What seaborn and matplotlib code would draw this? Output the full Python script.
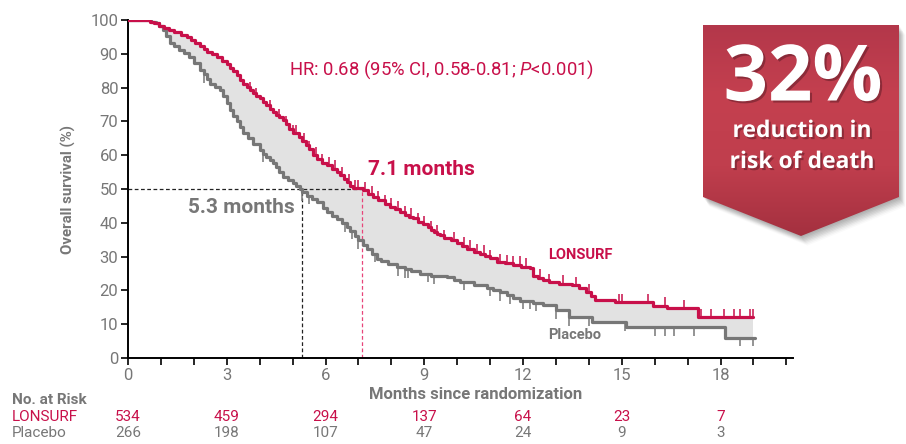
import numpy as np
import matplotlib
matplotlib.use('Agg')
from matplotlib import pyplot as plt
from matplotlib.patches import Polygon
import matplotlib.patheffects as pe
import seaborn as sns

# Kaplan-Meier step points (months, % alive)
lonsurf_t = [0, 0.67, 0.8, 0.95, 1.1, 1.25, 1.4, 1.6, 1.78, 1.9, 2.05, 2.2, 2.3, 2.4, 2.55,
             2.7, 2.85, 3.0, 3.1, 3.2, 3.3, 3.4, 3.5, 3.6, 3.7, 3.8, 3.9, 4.0, 4.1, 4.2,
             4.3, 4.4, 4.5, 4.6, 4.7, 4.8, 4.9, 5.0, 5.2, 5.3, 5.4, 5.5, 5.63, 5.75, 5.9,
             6.05, 6.2, 6.34, 6.45, 6.55, 6.65, 6.75, 6.84, 7.14, 7.3, 7.45, 7.6, 7.8, 7.96,
             8.1, 8.25, 8.4, 8.55, 8.66, 8.8, 8.95, 9.1, 9.2, 9.3, 9.4, 9.47, 9.6, 9.8,
             10.0, 10.15, 10.3, 10.5, 10.69, 10.85, 11.0, 11.2, 11.45, 11.7, 11.95, 12.2,
             12.3, 12.45, 12.6, 12.8, 13.1, 13.5, 13.7, 13.9, 14.05, 14.2, 14.8, 15.95,
             16.36, 17.3, 18.97]
lonsurf_s = [100, 99.5, 99, 98.3, 97.6, 97, 96.5, 95.7, 95, 94.2, 93.3, 92.3, 91.4, 90.6, 89.8,
             89, 88, 87, 85.8, 85, 83.6, 82.2, 81.2, 80.2, 79.2, 78.3, 77.5, 76.8, 75.8, 74.8,
             73.8, 72.9, 72, 71.2, 70.4, 69.2, 67.8, 66.5, 65.5, 64.2, 63, 61.8, 60, 59, 57.8,
             57, 56, 55, 54, 53, 52, 51, 50.2, 49.6, 48.5, 47.6, 46.8, 45.7, 44.7,
             44, 43.2, 42.4, 41.8, 41.3, 40.3, 39.5, 38.8, 38, 37.4, 36.8, 36.3, 35.5, 34.8,
             34, 33.2, 32.3, 31.3, 30.9, 30.2, 29.5, 28.4, 28, 27.6, 27, 26.5,
             24.4, 23.8, 23.2, 22.5, 22, 21.5, 20.7, 19.5, 18.3, 17.2, 16.5, 15.5,
             14.8, 12.1, 12.1]

placebo_t = [0, 0.7, 0.85, 0.95, 1.07, 1.15, 1.27, 1.4, 1.55, 1.7, 1.85, 2.0, 2.19, 2.3, 2.4,
             2.49, 2.65, 2.79, 2.9, 3.0, 3.1, 3.2, 3.3, 3.4, 3.5, 3.65, 3.8, 4.0, 4.1, 4.2,
             4.3, 4.4, 4.5, 4.6, 4.7, 4.85, 5.0, 5.1, 5.22, 5.3, 5.45, 5.6, 5.73, 5.92, 6.05,
             6.2, 6.35, 6.5, 6.64, 6.75, 6.9, 7.0, 7.14, 7.25, 7.4, 7.55, 7.7, 7.9, 8.16,
             8.4, 8.6, 8.87, 9.2, 9.68, 9.9, 10.1, 10.5, 10.9, 11.1, 11.3, 11.5, 11.7, 11.9,
             12.3, 12.6, 13.0, 13.4, 14.1, 15.14, 18.13, 19.04]
placebo_s = [100, 99.5, 99, 98.2, 97, 95.2, 93.2, 92.2, 91.2, 90.2, 89.2, 87.3, 85.2, 84, 82.5,
             81.2, 80.2, 79.3, 77.5, 75.5, 73.3, 71.6, 70, 68.2, 66.5, 65, 63.3, 61.5, 60.5, 59.5,
             58.6, 57.6, 56.5, 55, 53.6, 52.6, 51.8, 51, 50.1, 49, 48, 47, 46.2, 44.3, 43.3,
             42.1, 41, 39.8, 38.8, 37.6, 36.2, 34.8, 33.3, 32.2, 30.8, 29.4, 28.6, 27.8, 26.9,
             26.2, 25.6, 24.9, 24.4, 23.9, 23, 22.5, 21.6, 20.8, 20.2, 19.5, 18.5, 17.8, 17.0,
             16.4, 15.6, 14.1, 12.1, 10.6, 9.1, 6.0, 6.0]

# censored observations (months)
lonsurf_cens = [3.7, 3.9, 4.3, 4.6, 4.8, 5.0, 5.1, 5.35, 5.5, 5.7, 5.9, 6.1, 6.3, 6.5,
                6.7, 6.9, 7.0, 7.2, 7.4, 7.6, 7.8, 8.0, 8.2, 8.4, 8.6, 8.8, 9.0, 9.2,
                9.4, 9.6, 9.9, 10.2, 10.4, 10.6, 10.8, 11.0, 11.3, 11.5, 11.7, 11.9,
                12.1, 12.3, 12.5, 12.8, 13.2, 13.6, 14.0, 14.9, 15.0, 15.8, 16.3, 16.9,
                17.4, 17.7, 18.1, 18.4, 18.6, 18.9, 19.0]
placebo_cens = [2.3, 4.1, 5.3, 5.5, 6.6, 6.8, 7.0, 7.5, 8.2, 8.4, 8.5, 9.1, 9.3, 10.2,
                11.0, 11.3, 11.6, 12.0, 12.2, 12.4, 13.0, 13.4, 14.0, 15.1, 16.0, 16.3,
                16.6, 17.2, 18.6, 19.0]

median_lonsurf = 7.1
median_placebo = 5.3

risk_months = [0, 3, 6, 9, 12, 15, 18]
risk_lonsurf = [534, 459, 294, 137, 64, 23, 7]
risk_placebo = [266, 198, 107, 47, 24, 9, 3]

RED = '#c8104a'
GRAY = '#777777'

sns.set_theme(style='ticks')
plt.rcParams['font.family'] = ['Roboto', 'DejaVu Sans']
plt.rcParams['mathtext.fontset'] = 'custom'
plt.rcParams['mathtext.it'] = 'Roboto:italic'
plt.rcParams['mathtext.rm'] = 'Roboto'

fig = plt.figure(figsize=(9.06, 4.44), dpi=100)
ax = fig.add_axes([128 / 906, 1 - 358 / 444, 665 / 906, 338 / 444])


def step_at(times, surv, x):
    idx = np.searchsorted(times, x, side='right') - 1
    return np.asarray(surv)[idx]


# shaded gap between curves
grid = np.unique(np.concatenate([lonsurf_t, placebo_t]))
grid = grid[grid <= 19.0]
ax.fill_between(grid, step_at(lonsurf_t, lonsurf_s, grid), step_at(placebo_t, placebo_s, grid),
                step='post', color='#e2e2e2', lw=0, zorder=1)

# median guides
ax.plot([0, median_lonsurf], [50, 50], ls=(0, (3, 2)), color='#222222', lw=0.9, zorder=2)
ax.plot([median_placebo, median_placebo], [0, 50], ls=(0, (3, 2)), color='#222222', lw=0.9, zorder=2)
ax.plot([median_lonsurf, median_lonsurf], [0, 50], ls=(0, (3, 2)), color='#e8457a', lw=0.9, zorder=2)

sns.lineplot(x=placebo_t, y=placebo_s, drawstyle='steps-post', color=GRAY, lw=2.3, ax=ax, zorder=3)
sns.lineplot(x=lonsurf_t, y=lonsurf_s, drawstyle='steps-post', color=RED, lw=2.3, ax=ax, zorder=4)

# censor marks: up for LONSURF, down for placebo
yc = step_at(lonsurf_t, lonsurf_s, np.array(lonsurf_cens))
ax.vlines(lonsurf_cens, yc, yc + 2.5, color=RED, lw=1.1, zorder=4)
yc = step_at(placebo_t, placebo_s, np.array(placebo_cens))
ax.vlines(placebo_cens, yc - 2.5, yc, color=GRAY, lw=1.1, zorder=3)

ax.set_xlim(0, 20.2)
ax.set_ylim(0, 100)
ax.set_xticks(risk_months)
ax.set_xticks(range(0, 21), minor=True)
ax.set_yticks(range(0, 101, 10))
sns.despine(ax=ax)
for s in ['left', 'bottom']:
    ax.spines[s].set_linewidth(1.4)
    ax.spines[s].set_color('black')
ax.tick_params(which='both', direction='out', length=5, width=1.2, color='black',
               labelcolor=GRAY, labelsize=12, pad=2)
ax.set_xlabel('Months since randomization', fontsize=12, fontweight='bold', color=GRAY)
ax.xaxis.set_label_coords(0.522, -0.087)
ax.set_ylabel('Overall survival (%)', fontsize=10.8, fontweight='bold', color=GRAY)
ax.yaxis.set_label_coords(-0.078, 0.5)

ax.text(4.89, 85.3, r'HR: 0.68 (95% CI, 0.58-0.81; $\mathit{P}$<0.001)', color=RED,
        fontsize=13.3, ha='left', va='center')
ax.text(7.29, 55.7, '7.1 months', color=RED, fontsize=15, fontweight='bold', ha='left', va='center')
ax.text(5.07, 44.4, '5.3 months', color=GRAY, fontsize=15, fontweight='bold', ha='right', va='center')
ax.text(12.75, 30.5, 'LONSURF', color=RED, fontsize=10.5, fontweight='bold', ha='left', va='center')
ax.text(12.75, 6.8, 'Placebo', color=GRAY, fontsize=10.5, fontweight='bold', ha='left', va='center')

# number at risk table
tr = ax.get_xaxis_transform()
fig.text(12 / 906, 1 - 400 / 444, 'No. at Risk', color=GRAY, fontsize=11, fontweight='bold',
         va='center')
fig.text(12 / 906, 1 - 417 / 444, 'LONSURF', color=RED, fontsize=11, va='center')
fig.text(12 / 906, 1 - 433 / 444, 'Placebo', color=GRAY, fontsize=11, va='center')
for m, a, b in zip(risk_months, risk_lonsurf, risk_placebo):
    ax.text(m, -59 / 338, str(a), color=RED, fontsize=11, ha='center', va='center',
            transform=tr, clip_on=False)
    ax.text(m, -75 / 338, str(b), color=GRAY, fontsize=11, ha='center', va='center',
            transform=tr, clip_on=False)

# badge
bx = fig.add_axes([0, 0, 1, 1], zorder=5)
bx.set_xlim(0, 906)
bx.set_ylim(444, 0)
bx.axis('off')
bx.patch.set_alpha(0)
pts = np.array([(703, 25), (899, 25), (899, 197), (801, 236), (703, 197)])
for k, a in zip(range(1, 9), [0.05, 0.05, 0.05, 0.05, 0.05, 0.04, 0.03, 0.02]):
    bx.add_patch(Polygon(pts + [k * 0.8, k * 1.2], closed=True, fc='black', ec='none', alpha=a))
grad = np.linspace(0, 1, 256)[:, None]
cmap = matplotlib.colors.LinearSegmentedColormap.from_list(
    'badge', ['#b3374a', '#c4404f', '#c03e4d', '#a3303f'])
poly = Polygon(pts, closed=True, fc='none', ec='none')
bx.add_patch(poly)
im = bx.imshow(grad, cmap=cmap, extent=(703, 899, 238, 25), aspect='auto', zorder=2)
im.set_clip_path(poly)
shadow = [pe.withSimplePatchShadow(offset=(1.5, -1.5), shadow_rgbFace='#5a1a25', alpha=0.5)]
bx.text(803, 80, '32%', color='white', fontsize=56, fontweight='bold', family='Open Sans',
        ha='center', va='center', zorder=3, path_effects=shadow)
bx.text(802, 131, 'reduction in', color='white', fontsize=16.5, fontweight='bold',
        family='Open Sans', ha='center', va='center', zorder=3, path_effects=shadow)
bx.text(802, 162, 'risk of death', color='white', fontsize=16.5, fontweight='bold',
        family='Open Sans', ha='center', va='center', zorder=3, path_effects=shadow)

fig.savefig('out.png', dpi=100)
